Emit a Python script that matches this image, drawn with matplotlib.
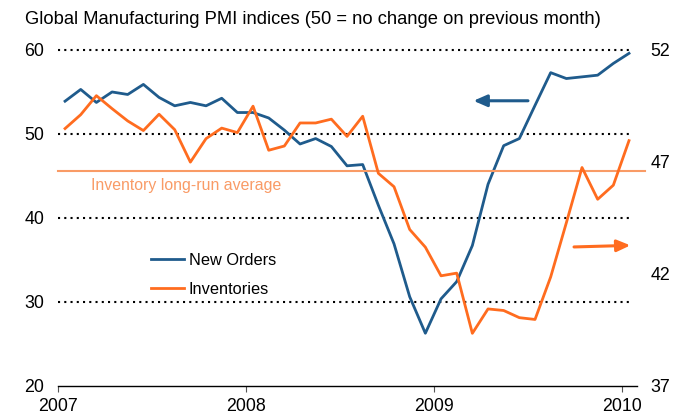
import matplotlib
matplotlib.use("Agg")
import matplotlib.pyplot as plt
import numpy as np

plt.rcParams['font.family'] = ['Liberation Sans', 'DejaVu Sans']

# Monthly data, Jan 2007 .. Jan 2010
new_orders = [53.9, 55.3, 53.75, 55.0, 54.7, 55.9, 54.35, 53.35, 53.75, 53.35, 54.25, 52.55,
              52.55, 51.9, 50.45, 48.8, 49.45, 48.5, 46.2, 46.35, 41.5, 36.9, 30.6, 26.25,
              30.35, 32.4, 36.7, 44.0, 48.6, 49.45, 53.4, 57.3, 56.6, 56.8, 57.0, 58.4, 59.6]
inventories = [48.49, 49.11, 49.96, 49.38, 48.83, 48.40, 49.13, 48.44, 46.99, 48.04, 48.51, 48.31,
               49.49, 47.52, 47.71, 48.74, 48.74, 48.91, 48.14, 49.04, 46.49, 45.89, 43.98, 43.19,
               41.91, 42.03, 39.34, 40.43, 40.36, 40.04, 39.96, 41.86, 44.28, 46.75, 45.33, 45.96, 47.95]
inventory_avg = 46.58
left_ticks = [20, 30, 40, 50, 60]
right_ticks = [37, 42, 47, 52]
year_ticks = [2007, 2008, 2009, 2010]

BLUE = '#1F5B8C'
ORANGE = '#FF6C1F'
ORANGE_LIGHT = '#F99B66'

x = 2007 + (np.arange(len(new_orders)) + 0.45) / 12.0

fig = plt.figure(figsize=(6.85, 4.19), dpi=100)
ax = fig.add_axes([58/685, 1-385.7/419, (637-58)/685, (385.7-50)/419])
ax2 = ax.twinx()

ax.set_xlim(2007, 2010.08)
ax.set_ylim(20, 60)
ax2.set_ylim(37, 52)

for v in [30, 40, 50, 60]:
    ax.plot([2007, 2010.055], [v, v], color='black', lw=1.5, ls=(0, (1, 2)), zorder=1,
            clip_on=False, dash_capstyle='butt')

l1, = ax.plot(x, new_orders, color=BLUE, lw=2.0, label='New Orders', zorder=3, clip_on=False)
l2, = ax2.plot(x, inventories, color=ORANGE, lw=2.0, label='Inventories', zorder=3)
ax2.plot([2007, 2010.12], [inventory_avg, inventory_avg], color=ORANGE_LIGHT, lw=1.5,
         clip_on=False, zorder=2)
ax2.text(2007.175, inventory_avg - 0.3, 'Inventory long-run average', color=ORANGE_LIGHT,
         fontsize=11.4, va='top', ha='left')

# arrows
ax.annotate('', xy=(2009.21, 53.95), xytext=(2009.5, 53.95),
            arrowprops=dict(arrowstyle='-|>,head_length=0.8,head_width=0.35', color=BLUE, lw=2.2,
                            shrinkA=0, shrinkB=0))
ax2.annotate('', xy=(2010.045, 43.27), xytext=(2009.745, 43.2),
             arrowprops=dict(arrowstyle='-|>,head_length=0.8,head_width=0.35', color=ORANGE, lw=2.2,
                             shrinkA=0, shrinkB=0))

for a in (ax, ax2):
    for s in ['top', 'left', 'right']:
        a.spines[s].set_visible(False)
ax2.spines['bottom'].set_visible(False)
ax.spines['bottom'].set_color('black')
ax.spines['bottom'].set_linewidth(1.0)

ax.set_xticks(year_ticks)
ax.set_xticklabels([str(y) for y in year_ticks], fontsize=12.8)
ax.tick_params(axis='x', direction='out', length=4, width=0.8, color='#555555', pad=5)
ax.set_yticks(left_ticks)
ax.set_yticklabels([str(v) for v in left_ticks], fontsize=12.8)
ax.tick_params(axis='y', length=0, pad=10)
ax2.set_yticks(right_ticks)
ax2.set_yticklabels([str(v) for v in right_ticks], fontsize=12.8)
ax2.tick_params(axis='y', length=0, pad=9.5)

leg = ax.legend(handles=[l1, l2], loc='upper left', bbox_to_anchor=(0.135, 0.44), frameon=False,
                fontsize=11.8, handlelength=2.0, handletextpad=0.3, labelspacing=0.85)

fig.text(25/685, 1-19/419, 'Global Manufacturing PMI indices (50 = no change on previous month)',
         fontsize=13.2, va='center', ha='left')

fig.savefig('out.png', dpi=100)
